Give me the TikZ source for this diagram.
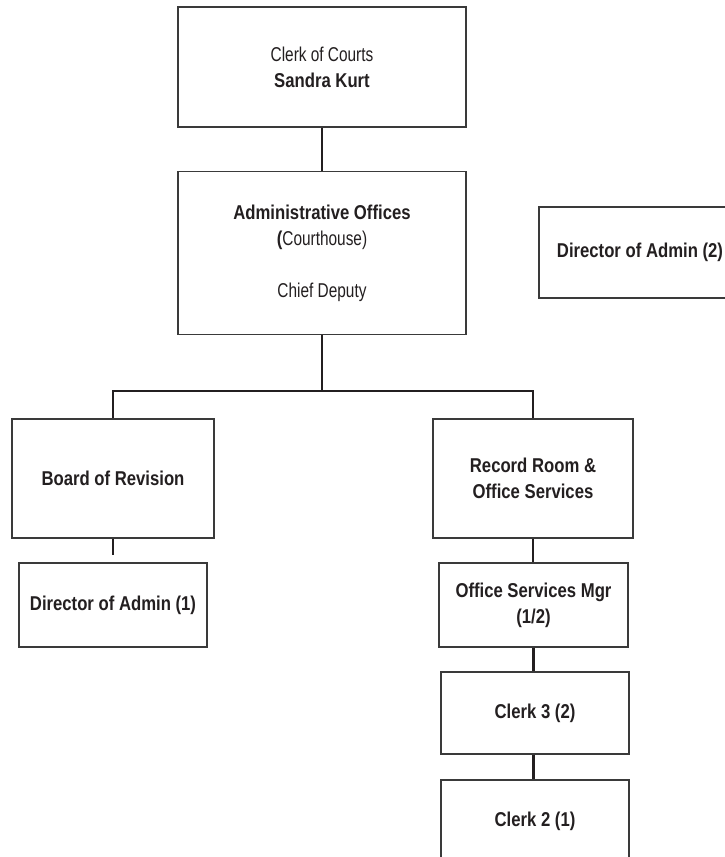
\documentclass[tikz,border=0pt]{standalone}
\usepackage{fontspec}
\setmainfont{Liberation Sans}[FakeStretch=0.77, BoldFeatures={FakeStretch=0.835}]
\definecolor{ink}{HTML}{231F20}
\definecolor{frame}{HTML}{3A3A3A}
\begin{document}
\begin{tikzpicture}[x=1pt,y=-1pt,
  box/.style={draw=frame, line width=1.3pt, fill=white, align=center,
    inner sep=0pt, text=ink, font=\fontsize{20}{26}\selectfont},
  link/.style={draw=ink, line width=2.8pt}]
\useasboundingbox (0,0) rectangle (725,857);

% boxes
\node[box, minimum width=288, minimum height=120] (clerk) at (322,67)
  {Clerk of Courts\\\textbf{Sandra Kurt}};
\node[box, minimum width=288, minimum height=163] (admin) at (322,253)
  {\textbf{Administrative Offices}\\\textbf{(}Courthouse)\\\mbox{}\\Chief Deputy};
\node[box, minimum width=202, minimum height=91] (dirtwo) at (640,252.5)
  {\textbf{Director of Admin (2)}};
\node[box, minimum width=202, minimum height=119] (board) at (113,478.5)
  {\textbf{Board of Revision}};
\node[box, minimum width=188, minimum height=84] (dirone) at (113,605)
  {\textbf{Director of Admin (1)}};
\node[box, minimum width=200, minimum height=119] (record) at (533,478.5)
  {\textbf{Record Room \&}\\\textbf{Office Services}};
\node[box, minimum width=189, minimum height=84] (osm) at (533.5,605)
  {\textbf{Office Services Mgr}\\\textbf{(1/2)}};
\node[box, minimum width=188, minimum height=82] (clerkthree) at (535,713)
  {\textbf{Clerk 3 (2)}};
\node[box, minimum width=188, minimum height=82] (clerktwo) at (535,821)
  {\textbf{Clerk 2 (1)}};

% bus and stub end points
\coordinate (bus) at (322,391);
\coordinate (busL) at (113,391);
\coordinate (busR) at (533,391);
\coordinate (stub) at (113,555);

% connectors
\draw[link] (clerk.south) -- (admin.north);
\draw[link] (admin.south) -- (bus);
\draw[link, line cap=rect] (busL) -- (busR);
\draw[link] (busL) -- (board.north);
\draw[link] (busR) -- (record.north);
\draw[link] (board.south) -- (stub);
\draw[link] (record.south) -- (osm.north -| record.south);
\draw[link] (osm.south) -- (clerkthree.north -| osm.south);
\draw[link] (clerkthree.south -| osm.south) -- (clerktwo.north -| osm.south);
\end{tikzpicture}
\end{document}
